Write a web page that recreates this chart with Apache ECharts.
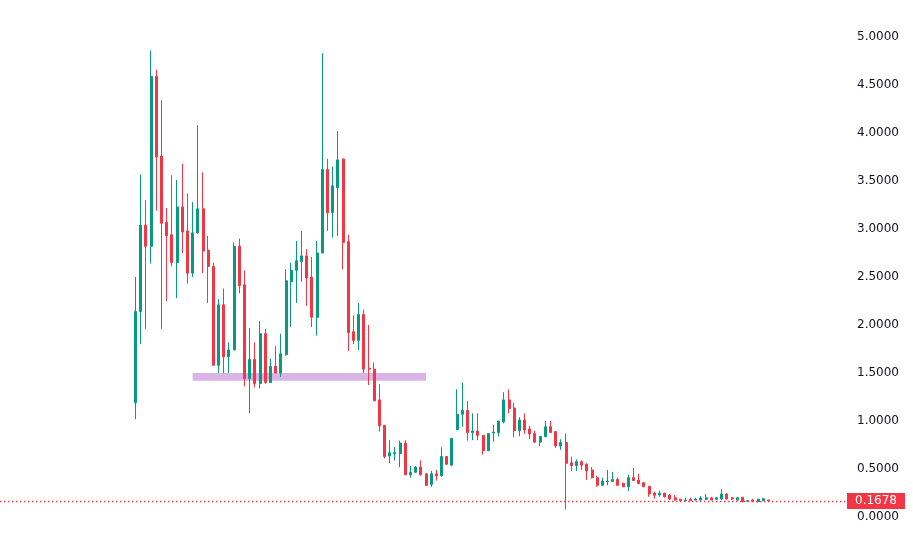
<!DOCTYPE html>
<html>
<head>
<meta charset="utf-8">
<script src="https://cdn.jsdelivr.net/npm/echarts@6/dist/echarts.min.js"></script>
<style>
  html, body { margin: 0; padding: 0; background: #ffffff; }
  #chart { width: 913px; height: 540px; }
</style>
</head>
<body>
<div id="chart"></div>
<script>
// 日K线 开/收/低/高
const openPrices = [
  1.19, 2.14, 3.04, 2.82, 4.59, 3.76, 3.07, 2.94, 2.65, 3.23,
  2.98, 2.54, 2.96, 3.21, 2.78, 2.61, 1.58, 2.21, 1.67, 1.74,
  2.82, 2.42, 1.44, 1.64, 1.39, 1.91, 1.40, 1.57, 1.50, 1.69,
  2.45, 2.57, 2.66, 2.72, 2.50, 2.08, 2.75, 3.62, 3.17, 3.43,
  3.73, 2.87, 1.93, 1.84, 2.11, 1.55, 1.54, 1.22, 0.955, 0.635,
  0.66, 0.66, 0.77, 0.44, 0.465, 0.52, 0.45, 0.34, 0.45, 0.43,
  0.63, 0.54, 0.91, 1.07, 1.11, 0.88, 0.895, 0.85, 0.69, 0.875,
  0.88, 0.99, 1.22, 1.135, 0.90, 1.01, 0.917, 0.87, 0.78, 0.836,
  0.94, 0.89, 0.74, 0.775, 0.565, 0.535, 0.576, 0.55, 0.49, 0.41,
  0.33, 0.37, 0.37, 0.39, 0.35, 0.315, 0.41, 0.385, 0.357, 0.32,
  0.25, 0.229, 0.247, 0.229, 0.20, 0.184, 0.171, 0.184, 0.177, 0.177,
  0.184, 0.20, 0.184, 0.1875, 0.24, 0.20, 0.177, 0.205, 0.163, 0.177,
  0.16, 0.17, 0.177
]
const closePrices = [
  2.14, 3.04, 2.82, 4.59, 3.75, 3.06, 2.93, 2.65, 3.23, 2.97,
  2.54, 2.96, 3.21, 2.77, 2.61, 1.58, 2.21, 1.67, 1.74, 2.82,
  2.41, 1.44, 1.64, 1.39, 1.91, 1.40, 1.57, 1.50, 1.70, 2.46,
  2.57, 2.67, 2.72, 2.49, 2.08, 2.75, 3.62, 3.17, 3.45, 3.72,
  2.86, 1.92, 1.84, 2.11, 1.54, 1.54, 1.21, 0.95, 0.63, 0.67,
  0.67, 0.77, 0.44, 0.465, 0.52, 0.44, 0.33, 0.45, 0.43, 0.63,
  0.55, 0.82, 1.07, 1.11, 0.88, 0.895, 0.85, 0.69, 0.87, 0.885,
  1.00, 1.22, 1.13, 0.90, 1.01, 0.906, 0.865, 0.78, 0.84, 0.94,
  0.88, 0.74, 0.775, 0.56, 0.535, 0.576, 0.54, 0.48, 0.41, 0.33,
  0.375, 0.375, 0.39, 0.33, 0.315, 0.41, 0.38, 0.35, 0.315, 0.24,
  0.226, 0.247, 0.21, 0.1875, 0.177, 0.17, 0.177, 0.17, 0.184, 0.198,
  0.20, 0.177, 0.20, 0.24, 0.1875, 0.1875, 0.20, 0.16, 0.17, 0.163,
  0.184, 0.19, 0.1678
]
const lowPrices = [
  1.02, 1.80, 1.96, 2.64, 3.19, 1.96, 2.25, 2.61, 2.28, 2.75,
  2.43, 2.50, 2.95, 2.54, 2.23, 1.58, 1.50, 1.50, 1.50, 1.74,
  2.33, 1.36, 1.08, 1.35, 1.34, 1.39, 1.40, 1.50, 1.46, 1.68,
  1.98, 2.23, 2.45, 2.20, 1.98, 1.89, 2.75, 2.98, 2.91, 2.93,
  2.58, 1.73, 1.80, 1.74, 1.50, 1.375, 1.21, 0.89, 0.61, 0.56,
  0.59, 0.52, 0.44, 0.41, 0.465, 0.43, 0.32, 0.315, 0.38, 0.42,
  0.54, 0.53, 0.906, 0.94, 0.795, 0.80, 0.80, 0.65, 0.69, 0.785,
  0.84, 0.976, 1.08, 0.83, 0.84, 0.865, 0.81, 0.77, 0.74, 0.836,
  0.875, 0.72, 0.70, 0.08, 0.48, 0.48, 0.49, 0.385, 0.40, 0.315,
  0.33, 0.33, 0.37, 0.33, 0.31, 0.27, 0.38, 0.34, 0.31, 0.21,
  0.19, 0.21, 0.205, 0.177, 0.17, 0.165, 0.17, 0.17, 0.17, 0.17,
  0.177, 0.177, 0.177, 0.177, 0.184, 0.177, 0.17, 0.153, 0.16, 0.155,
  0.153, 0.165, 0.165
]
const highPrices = [
  2.50, 3.57, 3.30, 4.86, 4.66, 4.34, 3.22, 3.56, 3.51, 3.68,
  3.37, 3.28, 4.08, 3.59, 2.93, 2.65, 2.27, 2.38, 1.82, 2.86,
  2.90, 2.57, 1.97, 1.82, 2.04, 1.96, 1.65, 1.78, 1.91, 2.58,
  2.65, 2.875, 2.98, 2.79, 2.71, 2.875, 4.83, 3.73, 3.65, 4.02,
  3.73, 2.94, 2.10, 2.23, 2.16, 2.00, 1.61, 1.385, 0.955, 0.80,
  0.73, 0.795, 0.80, 0.53, 0.53, 0.59, 0.45, 0.48, 0.49, 0.726,
  0.63, 0.82, 1.33, 1.40, 1.21, 1.08, 1.08, 0.85, 0.87, 0.96,
  1.00, 1.30, 1.33, 1.19, 1.04, 1.08, 0.95, 0.90, 0.84, 1.00,
  1.00, 0.89, 0.81, 0.87, 0.63, 0.60, 0.59, 0.56, 0.52, 0.43,
  0.41, 0.49, 0.47, 0.41, 0.36, 0.44, 0.51, 0.45, 0.365, 0.32,
  0.264, 0.274, 0.253, 0.24, 0.229, 0.19, 0.20, 0.20, 0.20, 0.219,
  0.24, 0.21, 0.21, 0.29, 0.247, 0.21, 0.21, 0.21, 0.177, 0.19,
  0.19, 0.20, 0.18
]
// 第几根K线
const days = openPrices.map((v, i) => String(i + 1))
// 紫色支撑带: 起止K线序号, 价格上下沿
const zoneStart = 11
const zoneEnd = 56
const zoneLow = 1.42
const zoneHigh = 1.50
const yTicks = { min: 0, max: 5, interval: 0.5 }

const upColor = '#089981'
const downColor = '#f23645'

let chart = echarts.init(document.getElementById('chart'))
let ohlc = openPrices.map((o, i) => [o, closePrices[i], lowPrices[i], highPrices[i]])
let lastPrice = closePrices[closePrices.length - 1]

let option = {
  backgroundColor: '#ffffff',
  animation: false,
  grid: { left: 133, right: 142, top: 37, bottom: 23 },
  xAxis: {
    type: 'category',
    data: days,
    axisLine: { show: false },
    axisTick: { show: false },
    axisLabel: { show: false },
    splitLine: { show: false }
  },
  yAxis: {
    type: 'value',
    position: 'right',
    min: yTicks.min,
    max: yTicks.max,
    interval: yTicks.interval,
    axisLine: { show: false },
    axisTick: { show: false },
    splitLine: { show: false },
    axisLabel: {
      margin: 86,
      color: '#131722',
      fontSize: 12,
      fontFamily: 'DejaVu Sans',
      formatter: v => v.toFixed(4)
    }
  },
  series: [{
    type: 'candlestick',
    data: ohlc,
    barWidth: 2.5,
    clip: false,
    itemStyle: {
      color: upColor,
      color0: downColor,
      borderColor: upColor,
      borderColor0: downColor,
      borderWidth: 1
    },
    markArea: {
      silent: true,
      z: 1,
      itemStyle: { color: '#dbb4e6' },
      data: [[
        { xAxis: zoneStart, yAxis: zoneLow },
        { xAxis: zoneEnd, yAxis: zoneHigh }
      ]]
    },
    markLine: {
      silent: true,
      symbol: 'none',
      animation: false,
      lineStyle: { color: downColor, width: 1.4, type: [1.4, 2.6] },
      label: {
        show: true,
        position: 'end',
        distance: 2,
        formatter: () => lastPrice.toFixed(4),
        backgroundColor: downColor,
        color: '#ffffff',
        fontSize: 12,
        fontFamily: 'DejaVu Sans',
        lineHeight: 14,
        padding: [1, 8, 1, 8]
      },
      data: [[
        { x: 0, yAxis: lastPrice },
        { x: 845, yAxis: lastPrice }
      ]]
    }
  }]
}
chart.setOption(option)
</script>
</body>
</html>
